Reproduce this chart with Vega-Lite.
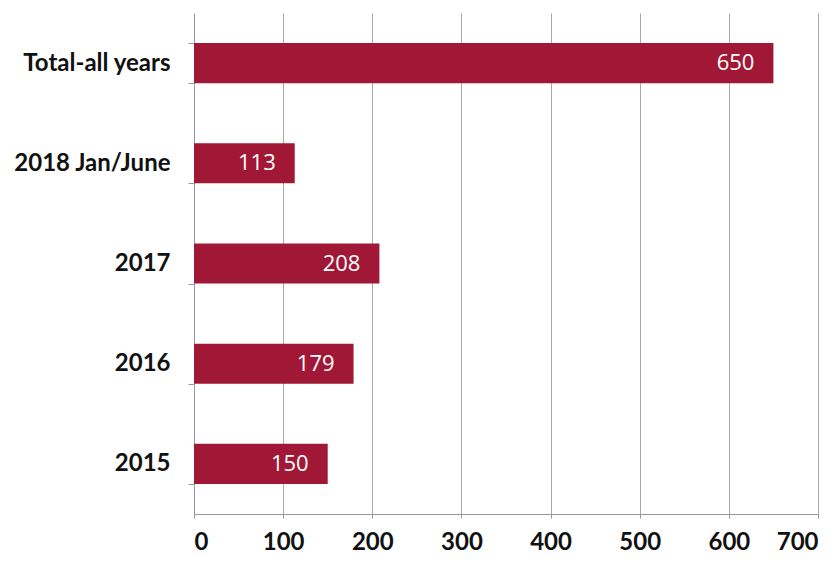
{
  "$schema": "https://vega.github.io/schema/vega-lite/v6.json",
  "width": 624,
  "height": 501,
  "autosize": {"type": "none"},
  "padding": {"left": 194, "top": 13, "right": 22, "bottom": 49},
  "background": "white",
  "data": {"values": [
    {"category": "Total-all years", "value": 650},
    {"category": "2018 Jan/June", "value": 113},
    {"category": "2017", "value": 208},
    {"category": "2016", "value": 179},
    {"category": "2015", "value": 150}
  ]},
  "encoding": {
    "y": {"field": "category", "type": "nominal", "sort": null,
      "scale": {"paddingInner": 0.6, "paddingOuter": 0.3},
      "axis": {"title": null, "labelFont": "Lato", "labelFontWeight": "bold", "labelFontSize": 24, "labelColor": "#111", "labelPadding": 18, "tickBand": "extent", "tickSize": 6, "tickColor": "#999", "domainColor": "#999", "grid": false}},
    "x": {"field": "value", "type": "quantitative",
      "scale": {"domain": [0, 700], "nice": false},
      "axis": {"title": null, "values": [0,100,200,300,400,500,600,700], "labelFont": "Lato", "labelFontWeight": "bold", "labelFontSize": 24, "labelColor": "#111", "labelPadding": 12, "tickSize": 4, "tickColor": "#999", "domainColor": "#999", "gridColor": "#aaa", "gridOpacity": 1, "grid": true}}
  },
  "layer": [
    {"mark": {"type": "bar", "color": "#a01835"}},
    {"mark": {"type": "text", "align": "right", "dx": -19, "color": "white", "font": "Open Sans", "fontSize": 22, "baseline": "middle"},
     "encoding": {"text": {"field": "value", "type": "quantitative"}}}
  ],
  "config": {"view": {"stroke": null}}
}
